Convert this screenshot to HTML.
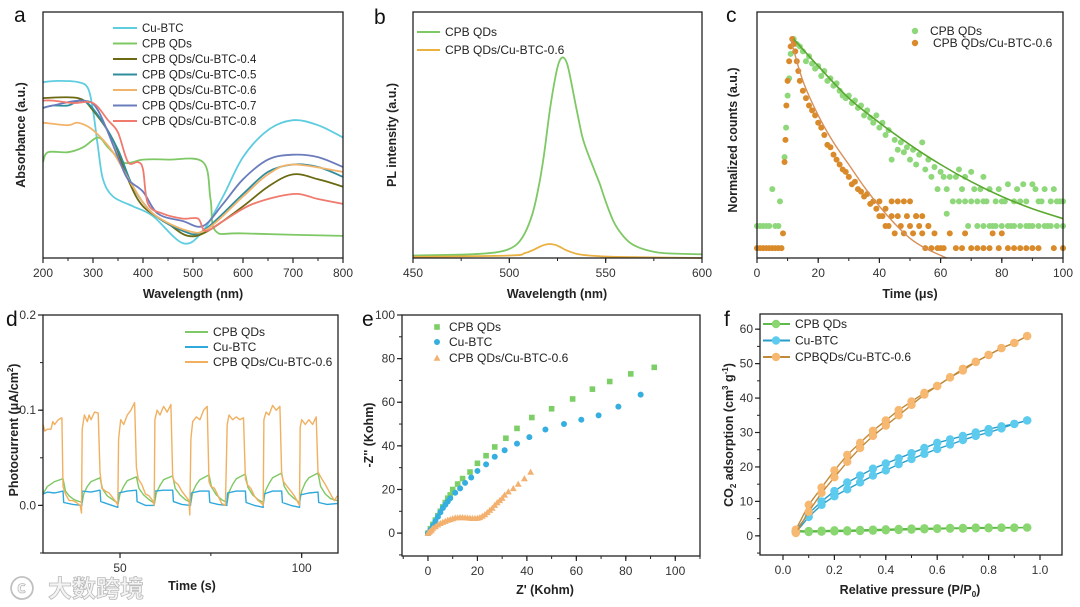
<!DOCTYPE html>
<html><head><meta charset="utf-8"><style>
html,body{margin:0;padding:0;background:#fff;}
svg{display:block;font-family:"Liberation Sans","Noto Sans CJK SC",sans-serif;}
</style></head><body>
<svg id="fig" width="1080" height="607" viewBox="0 0 1080 607" xmlns="http://www.w3.org/2000/svg">
<rect width="1080" height="607" fill="#fff"/>
<g font-size="21" fill="#111">
<text x="14" y="22">a</text>
<text x="374" y="24">b</text>
<text x="726" y="22">c</text>
<text x="6" y="326">d</text>
<text x="362" y="326">e</text>
<text x="724" y="326">f</text>
</g>
<g font-size="12.5" font-weight="bold" fill="#222" text-anchor="middle">
<text x="193" y="298">Wavelength (nm)</text>
<text transform="translate(25,135) rotate(-90)">Absorbance (a.u.)</text>
<text x="557" y="298">Wavelength (nm)</text>
<text transform="translate(396,135) rotate(-90)">PL intensity (a.u.)</text>
<text x="910" y="298">Time (μs)</text>
<text transform="translate(737,140) rotate(-90)">Normalized counts (a.u.)</text>
<text x="192" y="590">Time (s)</text>
<text transform="translate(18,430) rotate(-90)">Photocurrent (μA/cm<tspan font-size="8" dy="-5">2</tspan><tspan dy="5">)</tspan></text>
<text x="545" y="594">Z' (Kohm)</text>
<text transform="translate(373,435) rotate(-90)">-Z'' (Kohm)</text>
<text x="910" y="594">Relative pressure (P/P<tspan font-size="8" dy="3">0</tspan><tspan dy="-3">)</tspan></text>
<text transform="translate(733,435) rotate(-90)">CO<tspan font-size="8" dy="3">2</tspan><tspan dy="-3"> adsorption (cm</tspan><tspan font-size="8" dy="-5">3</tspan><tspan dy="5"> g</tspan><tspan font-size="8" dy="-5">-1</tspan><tspan dy="5">)</tspan></text>
</g>
<g font-size="24" font-weight="bold" fill="#f4f4f4" stroke="#bbb" stroke-width="0.8">
<text x="10" y="597">ⓒ</text>
<text x="48" y="597">大数跨境</text>
</g>
</svg>
<script>
// ---------- data ----------
const aCuBTC_x=[200,230,270,290,300,310,320,340,380,420,480,520,560,600,650,700,750,800];
const aCuBTC_y=[.715,.72,.715,.69,.60,.45,.32,.25,.21,.17,.06,.11,.25,.41,.52,.56,.54,.49];
const aCPB_x=[200,210,250,280,310,330,360,380,400,450,520,535,545,600,800];
const aCPB_y=[.39,.43,.43,.45,.49,.45,.39,.39,.40,.40,.39,.24,.11,.10,.09];
const a04_x=[200,270,300,340,370,400,450,490,530,600,650,700,750,800];
const a04_y=[.65,.65,.60,.48,.32,.21,.14,.09,.11,.21,.29,.34,.32,.29];
const a05_x=[200,220,250,280,310,350,380,420,480,520,600,650,700,750,800];
const a05_y=[.61,.62,.62,.64,.58,.44,.29,.18,.11,.11,.26,.35,.38,.37,.33];
const a06_x=[200,250,270,300,340,380,420,490,530,600,650,700,800];
const a06_y=[.55,.54,.55,.52,.43,.29,.18,.11,.12,.25,.34,.38,.35];
const a07_x=[200,220,280,310,350,370,400,430,480,520,560,600,650,700,750,800];
const a07_y=[.61,.62,.64,.60,.41,.32,.27,.18,.15,.13,.22,.32,.40,.42,.41,.37];
const a08_x=[200,220,260,300,330,350,370,390,400,410,440,480,510,525,560,620,700,750,800];
const a08_y=[.64,.64,.63,.63,.56,.51,.39,.39,.36,.22,.18,.16,.16,.11,.15,.22,.26,.24,.22];
const bCPB_x=[450,480,495,503,508,512,515,518,521,524,526,528,530,532,535,538,541,544,547,550,554,558,563,570,580,600];
const bCPB_y=[.01,.015,.025,.05,.1,.18,.28,.42,.6,.74,.8,.815,.79,.72,.6,.49,.42,.36,.3,.23,.15,.1,.06,.035,.02,.015];
const bMix_x=[450,500,508,513,517,521,525,530,536,545,560,600];
const bMix_y=[.005,.01,.02,.035,.05,.057,.05,.03,.015,.008,.004,0];
// Panel c: [time, counts] pairs
const cG=[[0,.13],[1,.13],[2,.13],[3,.13],[4,.13],[5,.28],[6,.13],[7,.13],[7.5,.23],[9,.41],[9.5,.53],[10,.66],[10.5,.73],[11,.83],[12,.89],[13,.87],[14,.86],[15,.84],[16,.80],[17,.82],[18,.79],[19,.77],[20,.78],[21,.74],[22,.76],[23,.72],[24,.73],[25,.70],[26,.71],[27,.68],[28,.66],[29,.65],[30,.66],[31,.63],[32,.64],[33,.61],[34,.62],[35,.58],[36,.60],[37,.57],[38,.55],[39,.58],[40,.53],[41,.55],[42,.50],[43,.52],[44,.40],[45,.48],[46,.44],[47,.47],[48,.43],[49,.45],[50,.40],[51,.44],[52,.38],[53,.42],[54,.47],[55,.36],[56,.40],[57,.33],[58,.37],[59,.28],[60,.35],[61,.33],[62,.28],[63,.33],[64,.23],[65,.33],[66,.36],[67,.28],[68,.33],[69,.13],[70,.35],[71,.28],[72,.23],[73,.28],[74,.33],[75,.23],[76,.28],[77,.13],[78,.23],[79,.28],[80,.13],[81,.23],[82,.30],[83,.13],[84,.23],[85,.28],[86,.13],[87,.30],[88,.23],[89,.13],[90,.30],[91,.28],[92,.13],[93,.23],[94,.28],[95,.13],[96,.23],[97,.28],[98,.13],[99,.23],[100,.13],[72,.13],[74,.13],[76,.13],[78,.13],[82,.13],[84,.13],[88,.13],[90,.13],[94,.13],[96,.13],[66,.23],[68,.23],[70,.23],[74,.23],[80,.23],[86,.23],[92,.23],[98,.23],[100,.23],[62,.18]];
const cO=[[0,.04],[1,.04],[2,.04],[3,.04],[4,.04],[5,.04],[6,.04],[7,.04],[8,.04],[8.5,.10],[9,.39],[9.3,.48],[9.6,.62],[10,.72],[10.5,.80],[11,.86],[11.5,.89],[12,.87],[12.5,.84],[13,.80],[13.5,.76],[14,.72],[15,.68],[16,.65],[17,.62],[18,.60],[19,.58],[20,.55],[21,.53],[22,.50],[23,.46],[24,.45],[25,.42],[26,.40],[27,.38],[28,.36],[29,.35],[30,.33],[31,.30],[32,.31],[33,.28],[34,.27],[35,.25],[36,.26],[37,.22],[38,.23],[39,.20],[40,.23],[41,.17],[42,.20],[43,.13],[44,.17],[45,.10],[46,.17],[47,.13],[48,.10],[49,.17],[50,.13],[51,.10],[52,.17],[53,.13],[54,.10],[55,.04],[56,.13],[57,.04],[58,.10],[59,.04],[60,.04],[61,.04],[63,.10],[65,.04],[67,.04],[68,.10],[70,.04],[72,.04],[74,.04],[76,.04],[77,.10],[79,.04],[80,.10],[82,.04],[84,.04],[86,.04],[88,.04],[90,.04],[92,.04],[97,.04],[100,.04],[44,.23],[46,.23],[48,.23],[50,.23],[52,.17],[54,.17],[56,.13],[40,.17],[42,.13]];
const cGfit_t=[12,20,30,40,50,60,70,80,90,100];
const cGfit_v=[.89,.78,.65,.55,.46,.38,.31,.25,.20,.16];
const cOfit_t=[11,15,20,25,30,35,40,45,50,55,62];
const cOfit_v=[.89,.72,.58,.47,.38,.29,.21,.14,.08,.04,0];
const dO_t=[28.8,29.3,30,31,31.5,32,33,34,34.3,35,36,37,38,39,39.4,39.6,40.2,41,41.5,42,43,44,44.5,45,46,47,48,49,49.4,49.6,50.2,51,52,53,54,54.5,55,56,57,58,59,59.4,59.6,60.2,61,62,63,64,64.5,65,66,67,68,69,69.2,69.5,70,71,72,73,74,74.5,75,76,77,78,79,79.5,80,81,82,83,84,84.5,85,86,87,88,89,89.4,89.6,90.2,91,92,93,94,94.5,95,96,97,98,99,99.4,99.6,100,101,102,103,104,104.5,105.5,106.5,107.5,108.5,109,109.8];
const dO_v=[.085,.078,.08,.08,.088,.085,.09,.092,.02,.012,.005,.005,.003,0,-.008,.08,.095,.088,.095,.09,.098,.097,.035,.018,.015,.013,.008,.003,0,.07,.09,.085,.095,.1,.108,.04,.028,.022,.012,.01,.005,0,.09,.1,.095,.104,.098,.106,.03,.025,.022,.015,.01,.005,-.01,.07,.088,.093,.09,.1,.104,.025,.02,.018,.01,.002,0,.085,.095,.09,.093,.09,.092,.028,.022,.018,.01,.005,.002,0,.09,.098,.095,.105,.1,.104,.032,.025,.02,.015,.01,.003,0,.082,.09,.085,.09,.085,.093,.035,.028,.022,.015,.008,.005,.01];
const dG_t=[28.8,30,32,34.3,35,36,37,38,39.6,40,41,42,44.5,45.2,46.5,48,49.5,50,51,52,54.5,55.2,56.5,58,59.5,60,61,62,64.5,65.2,66.5,68,69.5,70,71,72,74.5,75.2,76.5,78,79.5,80,81,82,84.5,85.2,86.5,88,89.5,90,91,92,94.5,95.2,96.5,98,99.4,100,101,102,104.5,105.2,106.5,108,109.8];
const dG_v=[.012,.02,.025,.028,.015,.01,.007,.005,.003,.012,.02,.025,.029,.017,.01,.006,.002,.012,.02,.026,.03,.018,.011,.006,.002,.013,.021,.027,.031,.018,.011,.006,.003,.014,.022,.027,.032,.019,.011,.006,.003,.014,.022,.028,.033,.019,.011,.006,.003,.015,.023,.029,.034,.02,.012,.007,.003,.015,.024,.029,.034,.02,.012,.007,.005];
const dB_t=[28.8,30,32,34.3,34.5,37,39.5,39.6,42,44.5,44.7,47,49.4,49.6,52,54.5,54.7,57,59.4,59.6,62,64.5,64.7,67,69.4,69.6,72,74.5,74.7,77,79.4,79.6,82,84.5,84.7,87,89.4,89.6,92,94.5,94.7,97,99.4,99.6,102,104.5,104.7,107,109.8];
const dB_v=[.012,.014,.013,.015,.003,.001,0,.015,.014,.016,.004,.001,-.002,.013,.015,.016,.004,0,0,.015,.016,.016,.004,.001,0,.013,.015,.015,.003,.001,0,.013,.015,.015,.003,0,-.002,.012,.015,.015,.003,0,-.002,.011,.013,.014,.003,.001,.002];
const eG_x=[0,1,2,3,4,5,6,7,8,9,10,12,14,17,20,23.5,27,31.5,36,42,50,58.5,66.5,73.5,82,91.5];
const eG_y=[0,2,4,6,8,10,12,14,16,17.5,20,22.5,25,28,32,35.5,39.5,43.5,48,53,57,61.5,66,69.5,73,76];
const eB_x=[0,1,2,3,4,5,6,7,8,9,11,13,15,17.5,20,23.5,27,31,36,41,47.5,55,62,69,77,86];
const eB_y=[0,1.5,3.5,5.5,7.5,9.5,11.5,13,14.5,16,18.5,20.5,23,25.5,28.5,31.5,35,38,41,44,47.5,50,52,54,58,63.5];
const eO_x=[0,.5,1,1.5,2,3,4,5,6,7,8,9,10,11,12,13,14,15,16,17,18,19,20,21,22,23,24,25,26,27,28,29,30,31,32.5,34.5,36.5,39,41.5];
const eO_y=[0,.5,1,1.5,2.3,3,3.8,4.5,5,5.5,6,6.3,6.7,7,7.1,7.2,7.2,7.1,7,6.9,6.8,6.8,6.9,7.2,7.8,8.5,9.5,10.5,11.5,12.8,14,15,16,17.5,19,20.5,22.5,25,28];
const fP=[.05,.1,.15,.2,.25,.3,.35,.4,.45,.5,.55,.6,.65,.7,.75,.8,.85,.9,.95];
const fOa=[1.8,9,14,19,23.5,27,30.5,33.5,36.5,39,41.5,43.5,46,48.5,50.5,52.5,54.5,56,58];
const fOd=[.8,7,12.5,17,21.5,25.5,29,32,35,38,41,43.5,46,48,50.5,52.5,54.5,56,58];
const fBa=[1.5,6.5,10,13,15.5,17.5,19.5,21,22.5,24,25.5,27,28,29,30,31,31.8,32.5,33.5];
const fBd=[1,5.5,9,11.5,13.5,15.5,17.5,19,20.8,22.3,23.8,25.2,26.5,27.8,29,30,31.2,32.5,33.5];
const fGa=[1.5,1.4,1.5,1.6,1.6,1.7,1.8,1.9,2,2.1,2.2,2.2,2.3,2.3,2.4,2.4,2.4,2.4,2.4];
const fGd=[1.2,1.1,1.2,1.3,1.3,1.4,1.5,1.6,1.7,1.8,1.9,2,2.1,2.1,2.2,2.2,2.3,2.3,2.4];
const aXt=[200,300,400,500,600,700,800];
const bXt=[450,500,550,600];
const cXt=[0,20,40,60,80,100];
const dXt=[50,100];
const dYt=[0.0,0.1,0.2];
const dYlab=['0.0','0.1','0.2'];
const eXt=[0,20,40,60,80,100];
const eYt=[0,20,40,60,80,100];
const fXt=[0,0.2,0.4,0.6,0.8,1.0];
const fXlab=['0.0','0.2','0.4','0.6','0.8','1.0'];
const fYt=[0,10,20,30,40,50,60];

// ---------- drawing ----------
const NS='http://www.w3.org/2000/svg';
const svg=document.getElementById('fig');
function mk(tag,parent){const e=document.createElementNS(NS,tag);(parent||svg).appendChild(e);return e;}
function scale(d0,d1,r0,r1){return v=>r0+(v-d0)/(d1-d0)*(r1-r0);}
function pd(xs,ys,sx,sy,smooth){
  const P=xs.map((x,i)=>[sx(x),sy(ys[i])]);
  if(!smooth)return P.map((p,i)=>(i?'L':'M')+p[0].toFixed(1)+','+p[1].toFixed(1)).join('');
  let d='M'+P[0][0].toFixed(1)+','+P[0][1].toFixed(1);
  for(let i=0;i<P.length-1;i++){
    const p0=P[Math.max(0,i-1)],p1=P[i],p2=P[i+1],p3=P[Math.min(P.length-1,i+2)];
    const c1=[p1[0]+(p2[0]-p0[0])/6,p1[1]+(p2[1]-p0[1])/6],c2=[p2[0]-(p3[0]-p1[0])/6,p2[1]-(p3[1]-p1[1])/6];
    d+='C'+c1[0].toFixed(1)+','+c1[1].toFixed(1)+' '+c2[0].toFixed(1)+','+c2[1].toFixed(1)+' '+p2[0].toFixed(1)+','+p2[1].toFixed(1);
  }
  return d;
}
function frame(name,x0,x1,y0,y1){
  const r=mk('rect');
  
  
  r.setAttribute('x',x0);r.setAttribute('y',y0);r.setAttribute('width',x1-x0);r.setAttribute('height',y1-y0);
  r.setAttribute('fill','none');r.setAttribute('stroke','#222');r.setAttribute('stroke-width','1.3');
}
function xticks(name,ticks,labels,sx,yb,minorStep,d0,d1){
  ticks.forEach((t,i)=>{
    const l=mk('line');
    
    
    l.setAttribute('x1',sx(t));l.setAttribute('x2',sx(t));l.setAttribute('y1',yb);l.setAttribute('y2',yb+5);
    l.setAttribute('stroke','#222');l.setAttribute('stroke-width','1.2');
    const tx=mk('text');
    
    
    tx.setAttribute('x',sx(t));tx.setAttribute('y',yb+19);tx.setAttribute('text-anchor','middle');
    tx.setAttribute('font-size','12');tx.setAttribute('fill','#333');
    tx.textContent=labels?labels[i]:String(t);
  });
  if(minorStep){
    for(let v=Math.ceil(d0/minorStep)*minorStep;v<=d1+1e-9;v+=minorStep){
      const m=mk('line');
      
      
      m.setAttribute('x1',sx(v));m.setAttribute('x2',sx(v));m.setAttribute('y1',yb);m.setAttribute('y2',yb+3);
      m.setAttribute('stroke','#222');m.setAttribute('stroke-width','1');
    }
  }
}
function yticks(name,ticks,labels,sy,xl,minorStep,d0,d1){
  ticks.forEach((t,i)=>{
    const l=mk('line');
    
    
    l.setAttribute('x1',xl-5);l.setAttribute('x2',xl);l.setAttribute('y1',sy(t));l.setAttribute('y2',sy(t));
    l.setAttribute('stroke','#222');l.setAttribute('stroke-width','1.2');
    const tx=mk('text');
    
    
    tx.setAttribute('x',xl-7);tx.setAttribute('y',sy(t)+4);tx.setAttribute('text-anchor','end');
    tx.setAttribute('font-size','12');tx.setAttribute('fill','#333');
    tx.textContent=labels?labels[i]:String(t);
  });
  if(minorStep){
    for(let v=Math.ceil(d0/minorStep)*minorStep;v<=d1+1e-9;v+=minorStep){
      const m=mk('line');
      
      
      m.setAttribute('x1',xl-3);m.setAttribute('x2',xl);m.setAttribute('y1',sy(v));m.setAttribute('y2',sy(v));
      m.setAttribute('stroke','#222');m.setAttribute('stroke-width','1');
    }
  }
}
function line(name,xs,ys,sx,sy,color,w,smooth){
  const p=mk('path');
  
  
  p.setAttribute('d',pd(xs,ys,sx,sy,smooth));p.setAttribute('fill','none');
  p.setAttribute('stroke',color);p.setAttribute('stroke-width',w||1.5);p.setAttribute('stroke-linejoin','round');
  return p;
}
function dots(name,xs,ys,sx,sy,color,r,shape){
  xs.forEach((x,i)=>{
    let e;
    const cx=sx(x),cy=sy(ys[i]);
    if(shape==='sq'){e=mk('rect');e.setAttribute('x',cx-r);e.setAttribute('y',cy-r);e.setAttribute('width',2*r);e.setAttribute('height',2*r);}
    else if(shape==='tri'){e=mk('path');e.setAttribute('d',`M${cx},${cy-r}L${cx+r},${cy+r*0.8}L${cx-r},${cy+r*0.8}Z`);}
    else {e=mk('circle');e.setAttribute('cx',cx);e.setAttribute('cy',cy);e.setAttribute('r',r);}
    
    
    e.setAttribute('fill',color);
  });
}
function legLine(name,x1,x2,y,color,label,fs){
  const l=mk('line');
  
  
  l.setAttribute('x1',x1);l.setAttribute('x2',x2);l.setAttribute('y1',y);l.setAttribute('y2',y);
  l.setAttribute('stroke',color);l.setAttribute('stroke-width','2');
  const t=mk('text');
  
  
  t.setAttribute('x',x2+5);t.setAttribute('y',y+4);t.setAttribute('font-size',fs||11.5);t.setAttribute('fill','#222');
  t.textContent=label;
}
function legText(name,x,y,label,fs){
  const t=mk('text');
  
  
  t.setAttribute('x',x);t.setAttribute('y',y+4);t.setAttribute('font-size',fs||11.5);t.setAttribute('fill','#222');
  t.textContent=label;
}

// Panel a
{const sx=scale(200,800,43,343),sy=scale(0,1,258,12);
line('a-series-cu-btc',aCuBTC_x,aCuBTC_y,sx,sy,'#5fcde0',1.8,true);
line('a-series-cpb-qds',aCPB_x,aCPB_y,sx,sy,'#7ec865',1.8,true);
line('a-series-0-4',a04_x,a04_y,sx,sy,'#6b6a12',1.8,true);
line('a-series-0-5',a05_x,a05_y,sx,sy,'#2f8e9e',1.8,true);
line('a-series-0-6',a06_x,a06_y,sx,sy,'#f2b36a',1.8,true);
line('a-series-0-7',a07_x,a07_y,sx,sy,'#6a7cbc',1.8,true);
line('a-series-0-8',a08_x,a08_y,sx,sy,'#f07a6e',1.8,true);
frame('a',43,343,12,258);
xticks('a',aXt,null,sx,258,50,200,800);
const L=[['Cu-BTC','#5fcde0'],['CPB QDs','#7ec865'],['CPB QDs/Cu-BTC-0.4','#6b6a12'],['CPB QDs/Cu-BTC-0.5','#2f8e9e'],['CPB QDs/Cu-BTC-0.6','#f2b36a'],['CPB QDs/Cu-BTC-0.7','#6a7cbc'],['CPB QDs/Cu-BTC-0.8','#f07a6e']];
L.forEach((e,i)=>legLine('a-legend-entry',113,137,28+i*15.5,e[1],e[0]));}

// Panel b
{const sx=scale(450,600,413,702),sy=scale(0,1,258,12);
line('b-series-cpb-qds',bCPB_x,bCPB_y,sx,sy,'#7ec865',1.8,true);
line('b-series-cpb-cu-btc-0-6',bMix_x,bMix_y,sx,sy,'#eab040',1.8,true);
frame('b',413,702,12,258);
xticks('b',bXt,null,sx,258,25,450,600);
legLine('b-legend-entry',417,440,32,'#7ec865','CPB QDs',12);
legLine('b-legend-entry',417,440,50,'#eab040','CPB QDs/Cu-BTC-0.6',12);}

// Panel c
{const sx=scale(0,100,757,1063),sy=scale(0,1,258,12);
dots('c-point-cpb-qds',cG.map(p=>p[0]),cG.map(p=>p[1]),sx,sy,'#8ed77a',3);
dots('c-point-cpb-cu-btc-0-6',cO.map(p=>p[0]),cO.map(p=>p[1]),sx,sy,'#d98a2a',3);
line('c-fit-cpb-qds',cGfit_t,cGfit_v,sx,sy,'#5aa830',1.6,true);
line('c-fit-cpb-cu-btc-0-6',cOfit_t,cOfit_v,sx,sy,'#d8905a',1.4,true);
frame('c',757,1063,12,258);
xticks('c',cXt,null,sx,258,10,0,100);
dots('c-legend-marker',[0],[0],()=>915,()=>31,'#8ed77a',3.2);
legText('c-legend-entry',930,31,'CPB QDs',12);
dots('c-legend-marker',[0],[0],()=>915,()=>43,'#d98a2a',3.2);
legText('c-legend-entry',933,43,'CPB QDs/Cu-BTC-0.6',12);}

// Panel d
{const sx=scale(28.8,110,43,338),sy=scale(-0.05,0.2,553,315);
line('d-series-cpb-qds',dG_t,dG_v,sx,sy,'#7ec865',1.4);
line('d-series-cu-btc',dB_t,dB_v,sx,sy,'#2fa8dc',1.4);
line('d-series-cpb-cu-btc-0-6',dO_t,dO_v,sx,sy,'#f0b060',1.4);
frame('d',43,338,315,553);
xticks('d',dXt,null,sx,553,25,30,110);
yticks('d',dYt,dYlab,sy,43,0.05,-0.05,0.2);
legLine('d-legend-entry',185,208,332,'#7ec865','CPB QDs',12);
legLine('d-legend-entry',185,208,347,'#2fa8dc','Cu-BTC',12);
legLine('d-legend-entry',185,208,362,'#f0b060','CPB QDs/Cu-BTC-0.6',12);}

// Panel e
{const sx=scale(-10.5,110,402,700),sy=scale(-10.5,100,556,315);
dots('e-point-cpb-qds',eG_x,eG_y,sx,sy,'#7ccf66',2.8,'sq');
dots('e-point-cu-btc',eB_x,eB_y,sx,sy,'#35aee0',3);
dots('e-point-cpb-cu-btc-0-6',eO_x,eO_y,sx,sy,'#f3b06e',3.4,'tri');
frame('e',402,700,315,556);
xticks('e',eXt,null,sx,556,10,-10,110);
yticks('e',eYt,null,sy,402,10,-10,100);
dots('e-legend-marker',[0],[0],()=>437,()=>327,'#7ccf66',2.8,'sq');
legText('e-legend-entry',449,327,'CPB QDs',12);
dots('e-legend-marker',[0],[0],()=>437,()=>342,'#35aee0',3);
legText('e-legend-entry',449,342,'Cu-BTC',12);
dots('e-legend-marker',[0],[0],()=>437,()=>358,'#f3b06e',3.4,'tri');
legText('e-legend-entry',449,358,'CPB QDs/Cu-BTC-0.6',12);}

// Panel f
{const sx=scale(-0.0895,1.0856,760,1062),sy=scale(-5.56,64.4,555,314);
[[fGa,'#5fb84a','#8ad670','cpb-qds'],[fGd,'#5fb84a','#8ad670','cpb-qds-desorption'],[fBa,'#2a9cc8','#5ccbee','cu-btc'],[fBd,'#2a9cc8','#5ccbee','cu-btc-desorption'],[fOa,'#c08a3a','#f7b872','cpb-cu-btc-0-6'],[fOd,'#c08a3a','#f7b872','cpb-cu-btc-0-6-desorption']].forEach(s=>{
  line('f-line-'+s[3],fP,s[0],sx,sy,s[1],1.4);
  dots('f-point-'+s[3],fP,s[0],sx,sy,s[2],4.2);
});
frame('f',760,1062,314,555);
xticks('f',fXt,fXlab,sx,555,0.1,-0.05,1.05);
yticks('f',fYt,null,sy,760,5,-5,64);
[['CPB QDs','#5fb84a','#8ad670'],['Cu-BTC','#2a9cc8','#5ccbee'],['CPBQDs/Cu-BTC-0.6','#c08a3a','#f7b872']].forEach((e,i)=>{
  const y=324+i*16.5;
  legLine('f-legend-entry',763,790,y,e[1],e[0],12);
  dots('f-legend-marker',[0],[0],()=>776,()=>y,e[2],4.2);
});}
</script>
</body></html>
